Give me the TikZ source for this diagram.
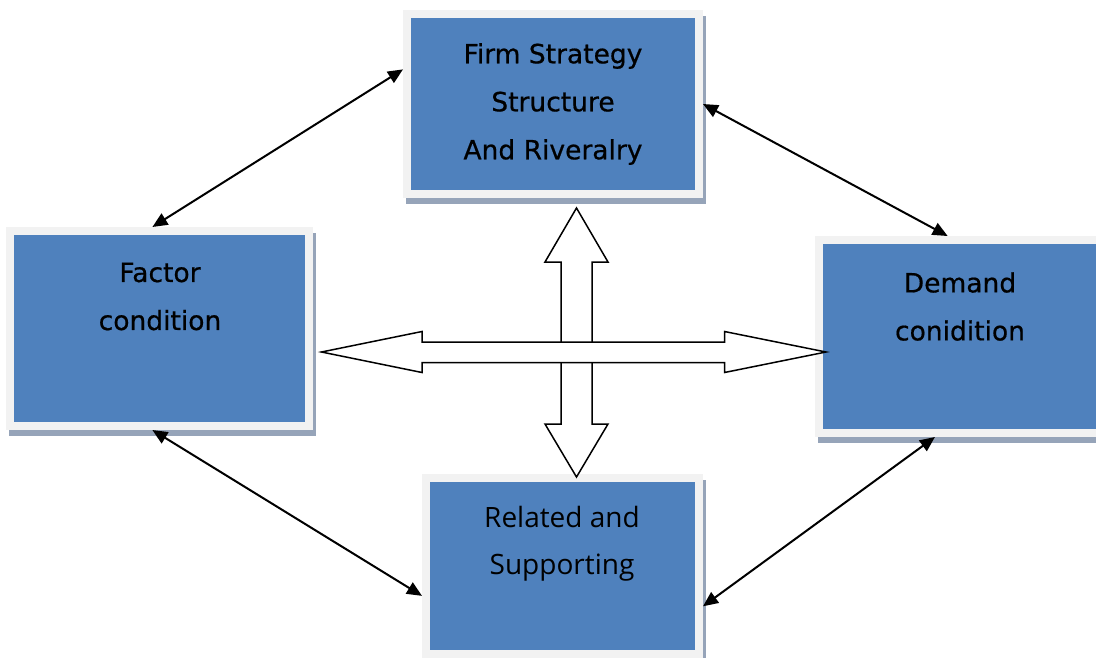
\documentclass[tikz,border=0pt]{standalone}
\usepackage{fontspec}
\setmainfont{DejaVu Sans}
\newfontface\medfont{DejaVu Sans}[FakeBold=0.6]
\newfontfamily\lightfont{Open Sans}
\usetikzlibrary{arrows.meta}
\definecolor{boxblue}{RGB}{79,129,189}
\definecolor{framegray}{RGB}{242,242,242}
\definecolor{shadowgray}{RGB}{150,164,185}

\begin{document}
\begin{tikzpicture}[x=1pt,y=-1pt,
  box/.style={draw=framegray,line width=8pt,fill=boxblue,inner sep=0pt,
    preaction={draw=shadowgray,fill=shadowgray,line width=8pt,
      transform canvas={shift={(2.5pt,-6pt)}}}},
  boxtext/.style={align=center,font=\medfont\fontsize{26.5}{48}\selectfont},
  blockarrow/.style={draw=black,fill=white,line width=1.5pt,line join=miter},
  link/.style={<->,line width=2pt},
  >={Triangle[length=15pt,width=13pt]}]
\useasboundingbox (0,0) rectangle (1096,657);
\clip (0,0) rectangle (1096,657);

\node [box,boxtext,minimum width=292pt,minimum height=180pt] (firm) at (553,104) {Firm Strategy\\Structure\\And Riveralry};
\node [box,minimum width=299pt,minimum height=195pt] (factor) at (159.5,328.5) {};
\node [box,minimum width=282pt,minimum height=193pt] (demand) at (960,336.5) {};
\node [box,minimum width=273pt,minimum height=176pt] (related) at (562.5,566) {};

\node [boxtext] (factor text) at (160,296.5) {Factor\\condition};
\node [boxtext] (demand text) at (960,306.5) {Demand\\conidition};
\node [boxtext,font=\lightfont\fontsize{28}{47}\selectfont] (related text) at (562,543.5) {Related and\\Supporting};

\draw [blockarrow] (576.5,208) -- (608,262) -- (592,262) -- (592,424) -- (608,424) -- (576.5,477)
  -- (545,424) -- (561,424) -- (561,262) -- (545,262) -- cycle;
\draw [blockarrow] (321.5,352) -- (422,331.5) -- (422,342) -- (724.5,342) -- (724.5,331.5) -- (826,352)
  -- (724.5,372.5) -- (724.5,362.5) -- (422,362.5) -- (422,372.5) -- cycle;

\draw [link] (firm.167) -- (factor.94);
\draw [link] (firm.east) -- (demand.97);
\draw [link] (factor.266) -- (related.192);
\draw [link] (related.344) -- (demand.256);
\end{tikzpicture}
\end{document}
